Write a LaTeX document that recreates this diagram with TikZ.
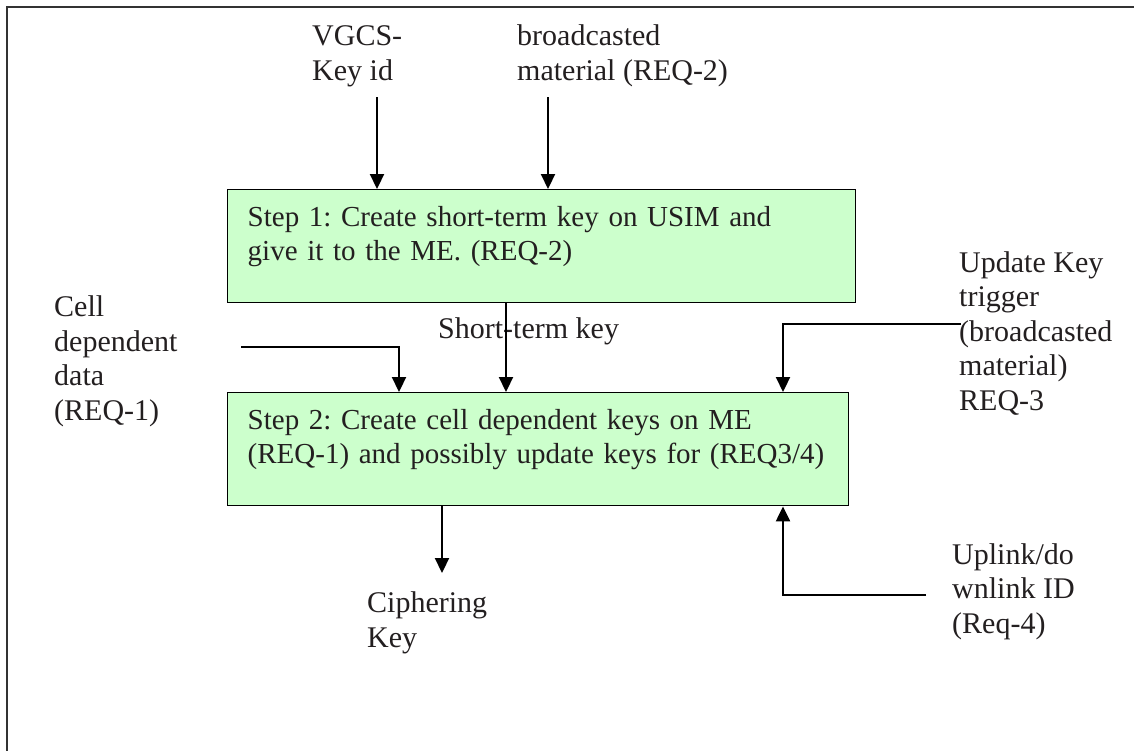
\documentclass[tikz,border=0pt]{standalone}
\usepackage{fontspec}
\setmainfont{Liberation Serif}
\usepackage{xcolor}
\usetikzlibrary{arrows.meta,positioning}
\definecolor{stepgreen}{HTML}{CCFFCC}
\definecolor{framegray}{HTML}{333333}
\definecolor{inkgray}{HTML}{231F20}

\begin{document}
\frenchspacing
\begin{tikzpicture}[
    x=1pt, y=-1pt,
    font=\fontsize{30}{34.5}\selectfont,
    stepbox/.style={rectangle, draw, line width=1.4pt, fill=stepgreen, anchor=north west,
                    inner xsep=20pt, inner ysep=0pt, text width=#1, align=left, text=inkgray,
                    font=\fontsize{29}{34}\selectfont,
                    text height=37pt, text depth=76pt},
    labeltext/.style={anchor=base west, inner sep=0pt, align=left, text=inkgray},
    arrow/.style={-{Triangle[length=15pt,width=14pt]}, line width=2.2pt}
]
\useasboundingbox (0,0) rectangle (1134,750);

% Frame
\draw[framegray, line width=1.4pt] (7,752) -- (7,7) -- (1136,7);

% Steps
\node[stepbox=588pt] (step1) at (227,189)
    {Step 1: Create short-term key on USIM and\\give it to the ME. (REQ-2)};
\node[stepbox=581pt] (step2) at (227,392)
    {Step 2: Create cell dependent keys on ME\\\mbox{(REQ-1) and possibly update keys for (REQ3/4)}};

% Inputs and outputs (placed at the baseline of their last line)
\node[labeltext] (vgcs) at (312,80) {VGCS-\\Key id};
\node[labeltext] (bcast) at (517,80) {broadcasted\\material (REQ-2)};
\node[labeltext] (cell) at (54,420) {Cell\\dependent\\data\\(REQ-1)};
\node[labeltext] (short) at (438,338) {Short-term key};
\node[labeltext] (cipher) at (367,647) {Ciphering\\Key};
\node[labeltext] (update) at (959,410) {Update Key\\trigger\\(broadcasted\\material)\\REQ-3};
\node[labeltext] (uplink) at (952,633) {Uplink/do\\wnlink ID\\(Req-4)};

% Free ends
\coordinate (vgcs-out) at (377,97);
\coordinate (bcast-out) at (548,97);
\coordinate (cell-out) at (241,347);
\coordinate (update-out) at (961,324);
\coordinate (uplink-out) at (926,595);
\coordinate (cipher-in) at (442,573);

% Arrows
\draw[arrow] (vgcs-out) -- ([xshift=150pt]step1.north west);
\draw[arrow] (bcast-out) -- ([xshift=321pt]step1.north west);
\draw[arrow] ([xshift=279pt]step1.south west) -- ([xshift=279pt]step2.north west);
\draw[arrow] (cell-out) -| ([xshift=172pt]step2.north west);
\draw[arrow] (update-out) -| ([xshift=556pt]step2.north west);
\draw[arrow] (uplink-out) -| ([xshift=556pt]step2.south west);
\draw[arrow] ([xshift=215pt]step2.south west) -- (cipher-in);

\end{tikzpicture}
\end{document}
